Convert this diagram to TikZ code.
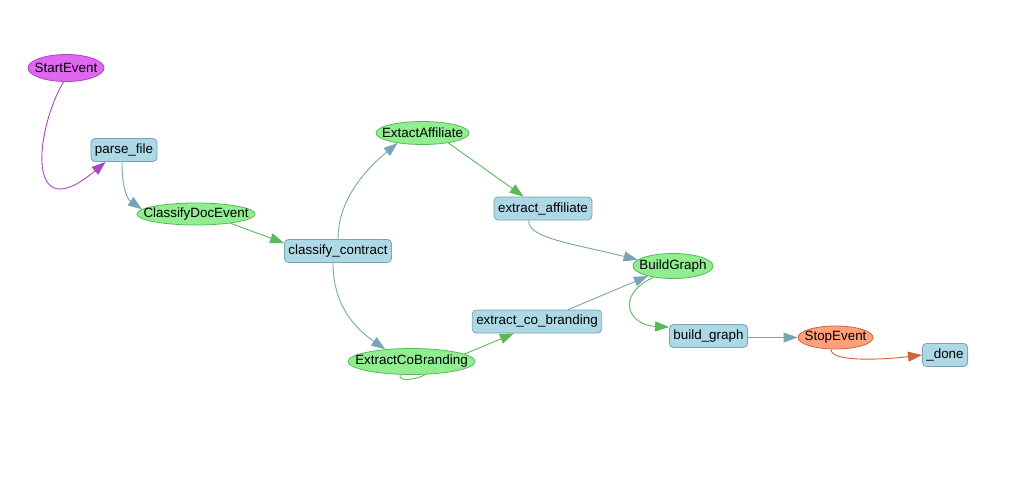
\documentclass[tikz,border=0pt]{standalone}
\usepackage{fontspec}
\setmainfont{Liberation Sans}
\usetikzlibrary{arrows.meta, shapes.geometric}
\definecolor{startcolor}{RGB}{224,104,240}
\definecolor{startline}{RGB}{170,70,190}
\definecolor{evcolor}{RGB}{144,238,144}
\definecolor{evline}{RGB}{90,185,90}
\definecolor{stepcolor}{RGB}{173,216,230}
\definecolor{stepline}{RGB}{122,164,182}
\definecolor{stopcolor}{RGB}{255,160,122}
\definecolor{stopline}{RGB}{210,100,60}
\newcommand{\evlabel}[1]{\makebox[0pt]{#1}}

\begin{document}
\begin{tikzpicture}[x=1pt, y=-1pt,
  stepbox/.style={draw=stepline, fill=stepcolor, rounded corners=4pt,
                  inner xsep=4pt, inner ysep=0pt, minimum height=23pt,
                  font=\fontsize{13.4}{16}\selectfont, line width=0.8pt},
  event/.style={ellipse, draw=evline, fill=evcolor, inner sep=0pt,
                font=\fontsize{13.4}{16}\selectfont, line width=0.8pt},
  arrow/.style={-{Triangle[length=14pt, width=10pt]}, line width=0.9pt},
]
\useasboundingbox (0,0) rectangle (1024,498);

\node[event, fill=startcolor, draw=startline, minimum width=76pt, minimum height=27pt]
  (start) at (66,68) {\evlabel{StartEvent}};
\node[stepbox] (parse) at (124,150) {parse\_file};
\node[event, minimum width=118pt, minimum height=22pt]
  (classifyev) at (196,214) {\evlabel{ClassifyDocEvent}};
\node[stepbox] (classify) at (338,251) {classify\_contract};
\node[event, minimum width=93pt, minimum height=23pt]
  (affev) at (422.5,133) {\evlabel{ExtactAffiliate}};
\node[stepbox] (aff) at (543,208.5) {extract\_affiliate};
\node[event, minimum width=127pt, minimum height=26pt]
  (cobrandev) at (411.5,361.5) {\evlabel{ExtractCoBranding}};
\node[stepbox] (cobrand) at (537,321.5) {extract\_co\_branding};
\node[event, minimum width=80pt, minimum height=25pt]
  (graphev) at (673,266) {\evlabel{BuildGraph}};
\node[stepbox] (graph) at (708.5,336) {build\_graph};
\node[event, fill=stopcolor, draw=stopline, minimum width=75pt, minimum height=23pt]
  (stop) at (835.5,337.5) {\evlabel{StopEvent}};
\node[stepbox] (done) at (945,355) {\_done};

\draw[arrow, startline] (start.-100) .. controls (35,130) and (25,230) .. ([xshift=15pt]parse.south west);
\draw[arrow, stepline] ([xshift=-2pt]parse.south) .. controls (122,185) and (126,198) .. (classifyev.175);
\draw[arrow, evline] (classifyev.-15) -- ([yshift=-4pt]classify.north west);
\draw[arrow, stepline] (classify.north) .. controls (338,200) and (365,170) .. (affev.-158);
\draw[arrow, stepline] ([xshift=-5pt]classify.south) .. controls (333,300) and (350,325) .. (cobrandev.155);
\draw[arrow, evline] (cobrandev.8) -- ([xshift=42pt]cobrand.south west);
\draw[evline, line width=0.9pt] (cobrandev.-44) .. controls (418,379) and (398,383) .. (cobrandev.-131);
\draw[arrow, evline] (affev.-21) -- ([xshift=30pt]aff.north west);
\draw[arrow, stepline] ([xshift=35pt]aff.south west) .. controls (528,238) and (570,243) .. (graphev.170);
\draw[arrow, stepline] ([xshift=-34pt]cobrand.north east) -- (graphev.-158);
\draw[arrow, evline] (graphev.-150) .. controls (615,295) and (628,325) .. ([yshift=-3pt]graph.north west);
\draw[arrow, stepline] ([yshift=-1.5pt]graph.east) -- (stop.west);
\draw[arrow, stopline] (stop.-110) .. controls (830,362) and (880,360) .. (done.west);
\end{tikzpicture}
\end{document}
